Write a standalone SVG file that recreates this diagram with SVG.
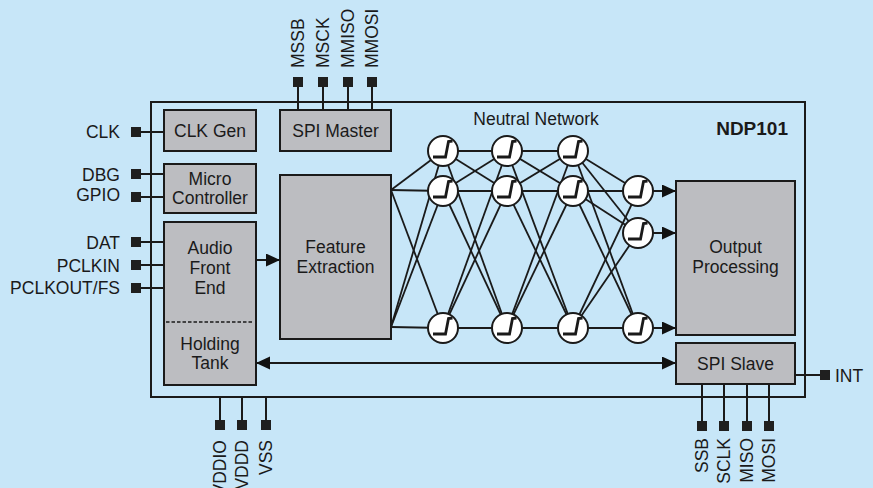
<svg xmlns="http://www.w3.org/2000/svg" width="873" height="488" viewBox="0 0 873 488">
<defs>
<style>
.t{font-family:"Liberation Sans",Arial,sans-serif;font-size:17.5px;fill:#1a1a1a}
.m{text-anchor:middle}
.e{text-anchor:end}
.box{fill:#bcbdc1;stroke:#1a1a1a;stroke-width:2}
.pin{fill:#1f1f1f}
.w{stroke:#1a1a1a;stroke-width:2;fill:none}
.n{stroke:#1a1a1a;stroke-width:1.8;fill:none}
</style>
<marker id="ah" markerUnits="userSpaceOnUse" markerWidth="14" markerHeight="14" refX="14" refY="6.5" orient="auto-start-reverse">
<path d="M0,0 L14,6.5 L0,13 z" fill="#111"/>
</marker>
<g id="nglyph">
<circle r="15" fill="#ffffff" stroke="#1a1a1a" stroke-width="2"/>
<path d="M-10,6 L2.5,6 L5.5,-9.5 L9.5,-10" fill="none" stroke="#1a1a1a" stroke-width="2.8"/>
</g>
</defs>
<rect width="873" height="488" fill="#c7e6f8"/>

<g id="chip">
<rect x="151" y="102" width="654" height="295" class="w"/>
<text x="788" y="135" class="t e" style="font-weight:bold;font-size:19px">NDP101</text>
<text x="536" y="125" class="t m">Neutral Network</text>
</g>

<g id="connectors">
<line x1="136" y1="132" x2="164" y2="132" class="w"/>
<line x1="136" y1="174" x2="164" y2="174" class="w"/>
<line x1="136" y1="197" x2="164" y2="197" class="w"/>
<line x1="136" y1="242" x2="164" y2="242" class="w"/>
<line x1="136" y1="265" x2="164" y2="265" class="w"/>
<line x1="136" y1="288" x2="164" y2="288" class="w"/>
<line x1="298" y1="82" x2="298" y2="110" class="w"/>
<line x1="323" y1="82" x2="323" y2="110" class="w"/>
<line x1="348" y1="82" x2="348" y2="110" class="w"/>
<line x1="372" y1="82" x2="372" y2="110" class="w"/>
<line x1="220" y1="397" x2="220" y2="425" class="w"/>
<line x1="242" y1="397" x2="242" y2="425" class="w"/>
<line x1="266" y1="397" x2="266" y2="425" class="w"/>
<line x1="702" y1="384" x2="702" y2="426" class="w"/>
<line x1="724" y1="384" x2="724" y2="426" class="w"/>
<line x1="747" y1="384" x2="747" y2="426" class="w"/>
<line x1="769" y1="384" x2="769" y2="426" class="w"/>
<line x1="795" y1="375" x2="825" y2="375" class="w"/>
<line x1="256" y1="260" x2="280" y2="260" class="w" marker-end="url(#ah)"/>
<line x1="256" y1="363" x2="676" y2="363" class="w" marker-start="url(#ah)" marker-end="url(#ah)"/>
<g class="n">
<line x1="391" y1="190" x2="443" y2="151"/>
<line x1="391" y1="190" x2="443" y2="191"/>
<line x1="391" y1="190" x2="443" y2="328"/>
<line x1="391" y1="327" x2="443" y2="151"/>
<line x1="391" y1="327" x2="443" y2="191"/>
<line x1="391" y1="327" x2="443" y2="328"/>
<line x1="443" y1="151" x2="507" y2="151"/>
<line x1="443" y1="151" x2="507" y2="191"/>
<line x1="443" y1="151" x2="507" y2="328"/>
<line x1="443" y1="191" x2="507" y2="151"/>
<line x1="443" y1="191" x2="507" y2="191"/>
<line x1="443" y1="191" x2="507" y2="328"/>
<line x1="443" y1="328" x2="507" y2="151"/>
<line x1="443" y1="328" x2="507" y2="191"/>
<line x1="443" y1="328" x2="507" y2="328"/>
<line x1="507" y1="151" x2="573" y2="151"/>
<line x1="507" y1="151" x2="573" y2="191"/>
<line x1="507" y1="151" x2="573" y2="328"/>
<line x1="507" y1="191" x2="573" y2="151"/>
<line x1="507" y1="191" x2="573" y2="191"/>
<line x1="507" y1="191" x2="573" y2="328"/>
<line x1="507" y1="328" x2="573" y2="151"/>
<line x1="507" y1="328" x2="573" y2="191"/>
<line x1="507" y1="328" x2="573" y2="328"/>
<line x1="573" y1="151" x2="638" y2="191"/>
<line x1="573" y1="151" x2="638" y2="233"/>
<line x1="573" y1="151" x2="638" y2="328"/>
<line x1="573" y1="191" x2="638" y2="191"/>
<line x1="573" y1="191" x2="638" y2="233"/>
<line x1="573" y1="191" x2="638" y2="328"/>
<line x1="573" y1="328" x2="638" y2="191"/>
<line x1="573" y1="328" x2="638" y2="233"/>
<line x1="573" y1="328" x2="638" y2="328"/>
</g>
<line x1="652" y1="191" x2="676" y2="191" class="w" marker-end="url(#ah)"/>
<line x1="652" y1="233" x2="676" y2="233" class="w" marker-end="url(#ah)"/>
<line x1="652" y1="328" x2="676" y2="328" class="w" marker-end="url(#ah)"/>
</g>

<g id="pins">
<rect x="131" y="127" width="10" height="10" class="pin"/>
<rect x="131" y="169" width="10" height="10" class="pin"/>
<rect x="131" y="192" width="10" height="10" class="pin"/>
<rect x="131" y="237" width="10" height="10" class="pin"/>
<rect x="131" y="260" width="10" height="10" class="pin"/>
<rect x="131" y="283" width="10" height="10" class="pin"/>
<rect x="293" y="77" width="10" height="10" class="pin"/>
<rect x="318" y="77" width="10" height="10" class="pin"/>
<rect x="343" y="77" width="10" height="10" class="pin"/>
<rect x="367" y="77" width="10" height="10" class="pin"/>
<rect x="215" y="420" width="10" height="10" class="pin"/>
<rect x="237" y="420" width="10" height="10" class="pin"/>
<rect x="261" y="420" width="10" height="10" class="pin"/>
<rect x="697" y="421" width="10" height="10" class="pin"/>
<rect x="719" y="421" width="10" height="10" class="pin"/>
<rect x="742" y="421" width="10" height="10" class="pin"/>
<rect x="764" y="421" width="10" height="10" class="pin"/>
<rect x="820" y="370" width="10" height="10" class="pin"/>
</g>

<g id="pin-labels" class="t">
<text x="120" y="138" class="e">CLK</text>
<text x="120" y="181" class="e">DBG</text>
<text x="120" y="201" class="e">GPIO</text>
<text x="120" y="249" class="e">DAT</text>
<text x="120" y="272" class="e">PCLKIN</text>
<text x="120" y="294" class="e">PCLKOUT/FS</text>
<text transform="translate(304,68) rotate(-90)">MSSB</text>
<text transform="translate(329,68) rotate(-90)">MSCK</text>
<text transform="translate(354,68) rotate(-90)">MMISO</text>
<text transform="translate(378,68) rotate(-90)">MMOSI</text>
<text transform="translate(226,440) rotate(-90)" class="e">VDDIO</text>
<text transform="translate(248,440) rotate(-90)" class="e">VDDD</text>
<text transform="translate(272,440) rotate(-90)" class="e">VSS</text>
<text transform="translate(708,438) rotate(-90)" class="e">SSB</text>
<text transform="translate(730,438) rotate(-90)" class="e">SCLK</text>
<text transform="translate(753,438) rotate(-90)" class="e">MISO</text>
<text transform="translate(775,438) rotate(-90)" class="e">MOSI</text>
<text x="835" y="382">INT</text>
</g>

<g id="clk-gen">
<rect x="164" y="110" width="92" height="41" class="box"/>
<text x="210" y="137" class="t m">CLK Gen</text>
</g>
<g id="spi-master">
<rect x="280" y="110" width="111" height="41" class="box"/>
<text x="335.5" y="137" class="t m">SPI Master</text>
</g>
<g id="micro-controller">
<rect x="164" y="164" width="92" height="49" class="box"/>
<text x="210" y="185" class="t m">Micro</text>
<text x="210" y="204" class="t m">Controller</text>
</g>
<g id="audio-front-end">
<rect x="164" y="222" width="92" height="163" class="box"/>
<text x="210" y="254" class="t m">Audio</text>
<text x="210" y="274" class="t m">Front</text>
<text x="210" y="294" class="t m">End</text>
<line x1="166" y1="322" x2="254" y2="322" stroke="#1a1a1a" stroke-width="1.5" stroke-dasharray="3.5,2"/>
<text x="210" y="350" class="t m">Holding</text>
<text x="210" y="369" class="t m">Tank</text>
</g>
<g id="feature-extraction">
<rect x="280" y="175" width="111" height="164" class="box"/>
<text x="335.5" y="253" class="t m">Feature</text>
<text x="335.5" y="273" class="t m">Extraction</text>
</g>
<g id="output-processing">
<rect x="676" y="181" width="119" height="154" class="box"/>
<text x="735.5" y="253" class="t m">Output</text>
<text x="735.5" y="273" class="t m">Processing</text>
</g>
<g id="spi-slave">
<rect x="676" y="343" width="119" height="41" class="box"/>
<text x="735.5" y="370" class="t m">SPI Slave</text>
</g>

<g id="neurons">
<use href="#nglyph" x="443" y="151"/>
<use href="#nglyph" x="443" y="191"/>
<use href="#nglyph" x="443" y="328"/>
<use href="#nglyph" x="507" y="151"/>
<use href="#nglyph" x="507" y="191"/>
<use href="#nglyph" x="507" y="328"/>
<use href="#nglyph" x="573" y="151"/>
<use href="#nglyph" x="573" y="191"/>
<use href="#nglyph" x="573" y="328"/>
<use href="#nglyph" x="638" y="191"/>
<use href="#nglyph" x="638" y="233"/>
<use href="#nglyph" x="638" y="328"/>
</g>
</svg>
